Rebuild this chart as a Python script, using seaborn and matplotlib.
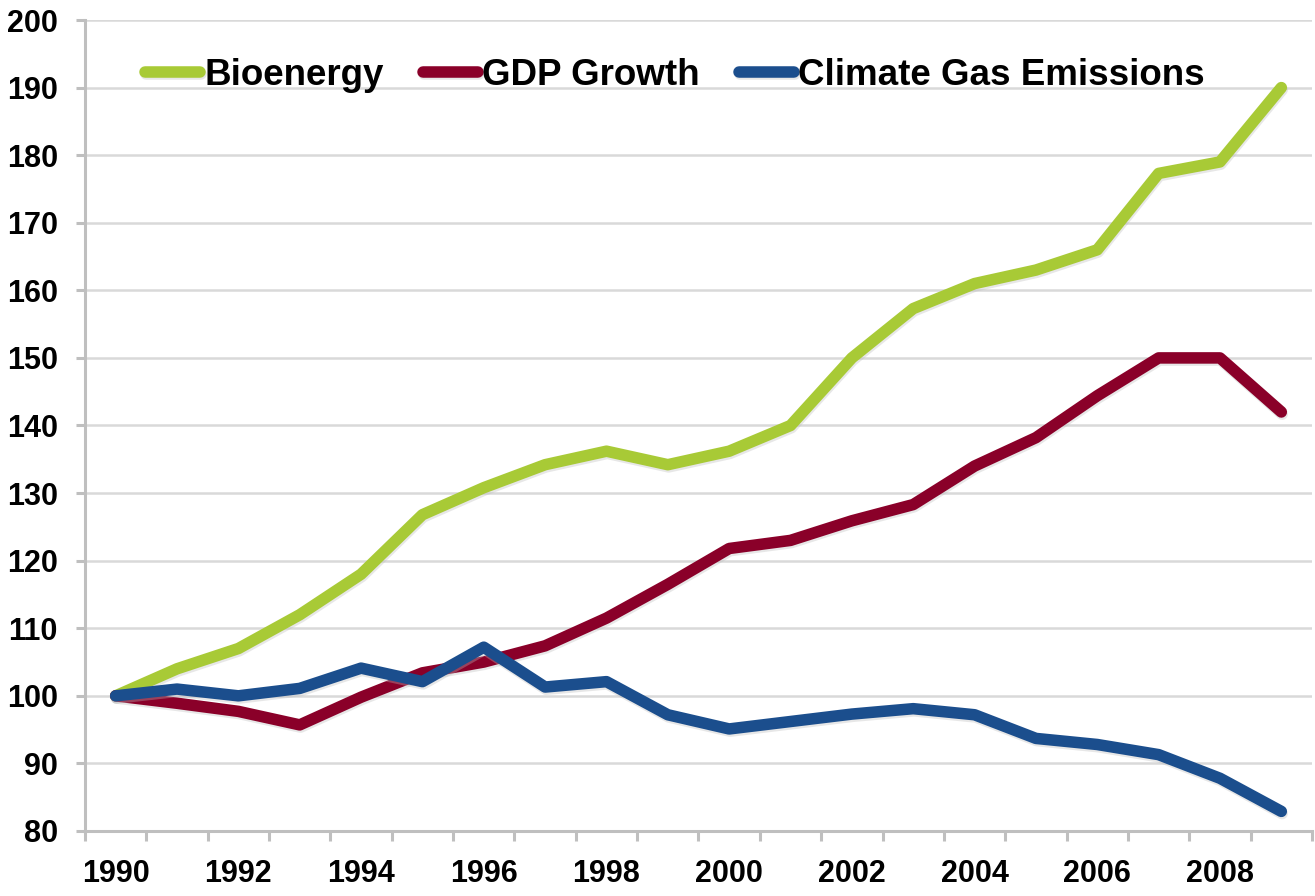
import pandas as pd
import matplotlib
matplotlib.use("Agg")
import matplotlib.pyplot as plt
import matplotlib.patheffects as pe
import seaborn as sns
from matplotlib.ticker import MultipleLocator, FixedLocator

# Index values (1990 = 100)
years = list(range(1990, 2010))
bioenergy = [100, 104, 107, 112, 118, 126.8, 130.8, 134.2, 136.2, 134.2,
             136.2, 140, 150, 157.3, 161, 163, 166, 177.3, 179, 190]
gdp_growth = [100, 98.9, 97.7, 95.7, 99.8, 103.4, 105, 107.4, 111.5, 116.5,
              121.8, 123, 125.9, 128.3, 134, 138.2, 144.4, 150, 150, 142]
climate_gas = [100, 101, 100, 101.1, 104.1, 102.1, 107.2, 101.3, 102.1, 97.2,
               95.1, 96.2, 97.3, 98.1, 97.2, 93.7, 92.8, 91.3, 87.8, 82.9]

series_names = ['Bioenergy', 'GDP Growth', 'Climate Gas Emissions']
colors = ['#A8CA36', '#8A0029', '#1B4E8D']

df = pd.DataFrame({
    'Year': years * 3,
    'Index': bioenergy + gdp_growth + climate_gas,
    'Series': [series_names[0]] * 20 + [series_names[1]] * 20 + [series_names[2]] * 20,
})

sns.set_style('white')
plt.rcParams['font.family'] = ['Liberation Sans', 'DejaVu Sans']
plt.rcParams['font.weight'] = 'bold'
plt.rcParams['text.color'] = 'black'
plt.rcParams['xtick.labelcolor'] = 'black'
plt.rcParams['ytick.labelcolor'] = 'black'

fig, ax = plt.subplots(figsize=(13.15, 8.96), dpi=100)
fig.subplots_adjust(left=85 / 1315, right=1312 / 1315, bottom=1 - 831 / 896, top=1 - 20 / 896)

sns.lineplot(data=df, x='Year', y='Index', hue='Series', hue_order=series_names,
             palette=colors, linewidth=8.3, solid_capstyle='round',
             solid_joinstyle='round', ax=ax, zorder=3)

# soft shadow under each line, like the original
for line in ax.get_lines():
    line.set_path_effects([pe.SimpleLineShadow(offset=(0.6, -1.6), alpha=0.35,
                                               shadow_color='#BBBBBB'),
                           pe.Normal()])

# Axes styling
ax.set_xlim(1989.5, 2009.5)
ax.set_ylim(80, 200)
ax.yaxis.set_major_locator(MultipleLocator(10))
ax.grid(axis='y', color='#D9D9D9', linewidth=1.8, zorder=0)
ax.grid(axis='x', visible=False)
ax.set_axisbelow(True)

for side in ['top', 'right']:
    ax.spines[side].set_visible(False)
for side in ['left', 'bottom']:
    ax.spines[side].set_color('#BFBFBF')
    ax.spines[side].set_linewidth(2.2)

ax.xaxis.set_major_locator(FixedLocator(years[::2]))
ax.set_xticklabels([str(y) for y in years[::2]])
ax.xaxis.set_minor_locator(FixedLocator([y - 0.5 for y in years] + [2009.5]))
ax.tick_params(axis='x', which='major', length=0, pad=20, labelsize=22)
ax.tick_params(axis='x', which='minor', length=7.5, width=2.2, color='#BFBFBF', direction='out')
ax.tick_params(axis='y', which='major', length=6.5, width=2.2, color='#BFBFBF',
               direction='out', pad=13, labelsize=22)
ax.tick_params(left=True, bottom=True)
ax.tick_params(axis='x', which='minor', bottom=True)
for lbl in ax.get_xticklabels() + ax.get_yticklabels():
    lbl.set_fontweight('bold')
    lbl.set_color('black')

ax.set_xlabel('')
ax.set_ylabel('')

leg = ax.legend(loc='center left', bbox_to_anchor=(0.0489, 0.932), ncol=3, frameon=False,
                borderpad=0, borderaxespad=0, handlelength=1.5, handletextpad=0.12,
                columnspacing=1.05, prop={'size': 26.5, 'weight': 'bold'})
for h in leg.get_lines():
    h.set_linewidth(8.3)
    h.set_solid_capstyle('round')
for t in leg.get_texts():
    t.set_color('black')

fig.savefig('out.png', dpi=100)
